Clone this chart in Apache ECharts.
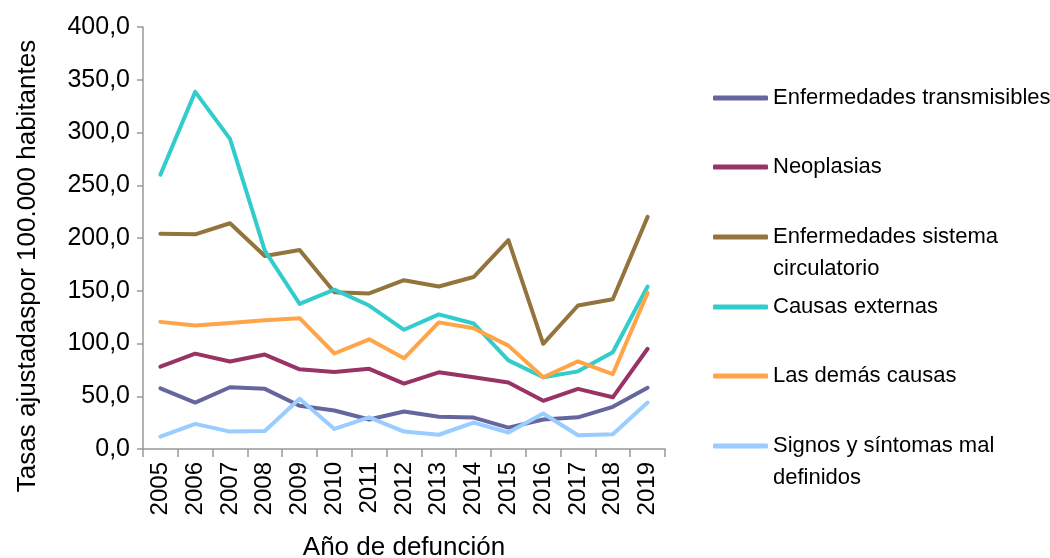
<!DOCTYPE html>
<html>
<head>
<meta charset="utf-8">
<script src="https://cdn.jsdelivr.net/npm/echarts@6/dist/echarts.min.js"></script>
<style>
  html, body { margin: 0; padding: 0; background: #fff; }
  #chart { width: 1050px; height: 558px; }
</style>
</head>
<body>
<div id="chart"></div>
<script>
// Tasas ajustadas de mortalidad por grupo de causa, 2005-2019
const years = ["2005", "2006", "2007", "2008", "2009", "2010", "2011", "2012",
  "2013", "2014", "2015", "2016", "2017", "2018", "2019"];

const transmisibles = [57.5, 44, 58.5, 57, 41, 36.5, 28, 35.6, 30.5, 29.8, 20.3, 28, 30, 40, 58];
const neoplasias = [78, 90.4, 83, 89.5, 75.5, 73, 76, 62, 72.7, 68, 63, 45.7, 57, 49, 95];
const circulatorio = [204, 203.5, 214, 183, 188.6, 148.5, 147.5, 160, 154, 163, 198, 99.7, 136, 142, 220];
const externas = [260, 338.5, 294, 188, 137.5, 151, 136, 113, 127.6, 119, 84, 68, 73.6, 91.7, 154];
const demas = [120.5, 117, 119.5, 122, 124, 90.5, 104, 86, 120, 114.5, 98, 68, 83, 71, 148];
const signos = [11.7, 23.8, 16.5, 17, 47.6, 19, 30, 16.5, 13.5, 25, 15.6, 33.7, 13, 14, 44];

const names = ["Enfermedades transmisibles", "Neoplasias",
  "Enfermedades sistema circulatorio", "Causas externas",
  "Las demás causas", "Signos y síntomas mal definidos"];
// legend labels as wrapped in the original
const legendLabels = ["Enfermedades transmisibles", "Neoplasias",
  "Enfermedades sistema\ncirculatorio", "Causas externas",
  "Las demás causas", "Signos y síntomas mal\ndefinidos"];
const colors = ["#66669e", "#993366", "#93743c", "#33cccc", "#ffa547", "#99ccff"];
const values = [transmisibles, neoplasias, circulatorio, externas, demas, signos];

// vertical centre of each legend icon
const legendY = [98, 167, 237, 307, 376, 446];

const FONT = "'Liberation Sans Narrow', 'Arial Narrow', 'Liberation Sans', sans-serif";
const LINE_H = 32;

const chart = echarts.init(document.getElementById("chart"));

const legends = names.map((n, i) => {
  const multi = legendLabels[i].includes("\n");
  return {
    data: [n],
    orient: "vertical",
    left: 713,
    top: legendY[i] - (multi ? LINE_H * 1.5 : LINE_H / 2),
    padding: 0,
    icon: "roundRect",
    itemWidth: 55,
    itemHeight: 5,
    selectedMode: false,
    // blank first line keeps the first text line level with the icon
    formatter: () => (multi ? " \n" : "") + legendLabels[i],
    textStyle: {
      fontFamily: FONT,
      fontSize: 22,
      color: "#000",
      lineHeight: LINE_H,
    },
  };
});

chart.setOption({
  animation: false,
  textStyle: { fontFamily: FONT },
  legend: legends,
  grid: { left: 143, top: 27, right: 385, bottom: 109, outerBoundsMode: "none" },
  xAxis: {
    type: "category",
    data: years,
    boundaryGap: true,
    name: "Año de defunción",
    nameLocation: "middle",
    nameGap: 86,
    nameTextStyle: { fontFamily: FONT, fontSize: 26, color: "#000" },
    axisLine: { lineStyle: { color: "#999", width: 1.5 } },
    axisTick: { show: true, length: 8, lineStyle: { color: "#999", width: 1.5 } },
    axisLabel: {
      rotate: 90,
      margin: 13,
      fontFamily: FONT,
      fontSize: 24,
      color: "#000",
    },
  },
  yAxis: {
    type: "value",
    min: 0,
    max: 400,
    interval: 50,
    name: "Tasas ajustadaspor 100.000 habitantes",
    nameLocation: "middle",
    nameGap: 102,
    nameTextStyle: {
      fontFamily: FONT,
      fontSize: 26,
      color: "#000",
      padding: [0, 56, 0, 0],
    },
    splitLine: { show: false },
    axisLine: { show: true, lineStyle: { color: "#999", width: 1.5 } },
    axisTick: { show: true, length: 6, lineStyle: { color: "#999", width: 1.5 } },
    axisLabel: {
      margin: 13,
      fontFamily: FONT,
      fontSize: 25,
      color: "#000",
      formatter: v => v.toFixed(1).replace(".", ","),
    },
  },
  series: names.map((n, i) => ({
    name: n,
    type: "line",
    data: values[i],
    color: colors[i],
    showSymbol: false,
    symbol: "none",
    lineStyle: { width: 4, color: colors[i], cap: "round", join: "round" },
  })),
});
</script>
</body>
</html>
